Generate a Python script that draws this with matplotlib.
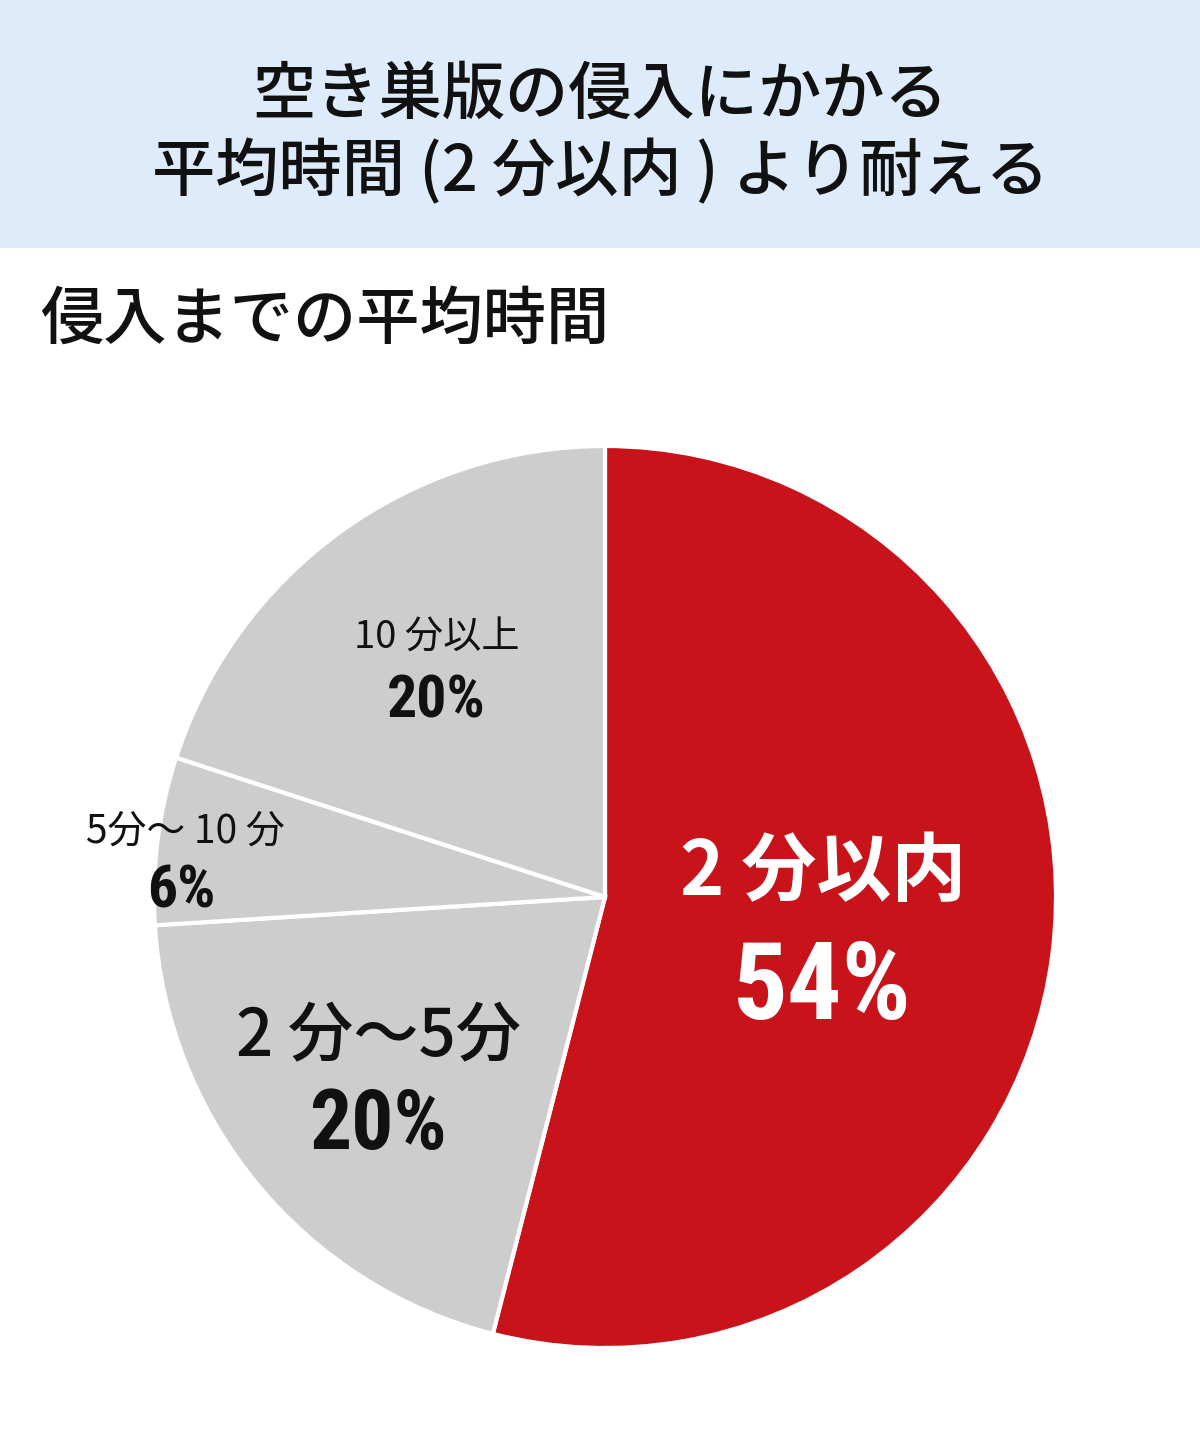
import matplotlib
matplotlib.use("Agg")
import matplotlib.pyplot as plt
from matplotlib.patches import Rectangle
from matplotlib import font_manager

plt.rcParams['font.family'] = ['Noto Sans CJK JP', 'DejaVu Sans']

# data
labels = ["2 分以内", "2 分〜5分", "5分〜 10 分", "10 分以上"]
values = [54, 20, 6, 20]
pcts = ["54%", "20%", "6%", "20%"]
colors = ["#C8131A", "#CDCDCD", "#CDCDCD", "#CDCDCD"]

title = "空き巣版の侵入にかかる\n平均時間 (2 分以内 ) より耐える"
subtitle = "侵入までの平均時間"

# condensed face for the percentages, if there is one
names = {f.name for f in font_manager.fontManager.ttflist}
pct_family = ["DejaVu Sans"]
for cand in ["Roboto Condensed", "Liberation Sans Narrow", "Open Sans Condensed", "DejaVu Sans Condensed"]:
    if cand in names:
        pct_family = [cand, "DejaVu Sans"]
        break

fig = plt.figure(figsize=(12, 14.5), dpi=100)
fig.patch.set_facecolor("white")

# title band
fig.patches.append(Rectangle((0, 1 - 248 / 1450), 1, 248 / 1450, transform=fig.transFigure,
                             facecolor="#DDEBFB", edgecolor="none", zorder=0))
fig.text(0.5, 1 - 134 / 1450, title, ha="center", va="center", fontsize=45.5,
         linespacing=1.22, color="#111111", fontweight="medium")
fig.text(40 / 1200, 1 - 320 / 1450, subtitle, ha="left", va="center", fontsize=45.5,
         color="#111111", fontweight="medium")

# pie axes, center (605, 897) px, radius 451 px
r = 451
ax = fig.add_axes([(605 - r) / 1200, (1450 - 897 - r) / 1450, 2 * r / 1200, 2 * r / 1450])
ax.pie(values, colors=colors, startangle=90, counterclock=False, radius=1,
       wedgeprops=dict(edgecolor="white", linewidth=3))
ax.set_xlim(-1, 1)
ax.set_ylim(-1, 1)
ax.axis("off")


def px(x, y):
    # pixel position -> data coords of the pie axes
    return (x - 605) / r, (897 - y) / r


# label styles: (name pos, pct pos, name size, pct size, color, name weight)
styles = [
    ((823, 873), (822, 990), 54, 78, "white", "bold"),
    ((378, 1038), (378, 1126), 47, 60, "#111111", "medium"),
    ((185, 832), (181, 892), 28, 43, "#111111", "normal"),
    ((437, 638), (436, 702), 27.5, 43, "#111111", "normal"),
]
for lab, pct, st in zip(labels, pcts, styles):
    (nx, ny), (qx, qy), ns, qs, col, w = st
    ax.text(*px(nx, ny), lab, ha="center", va="center", fontsize=ns, color=col, fontweight=w)
    ax.text(*px(qx, qy), pct, ha="center", va="center", fontsize=qs, color=col,
            fontweight="bold", fontstretch="condensed", family=pct_family)

fig.savefig("out.png", dpi=100)
